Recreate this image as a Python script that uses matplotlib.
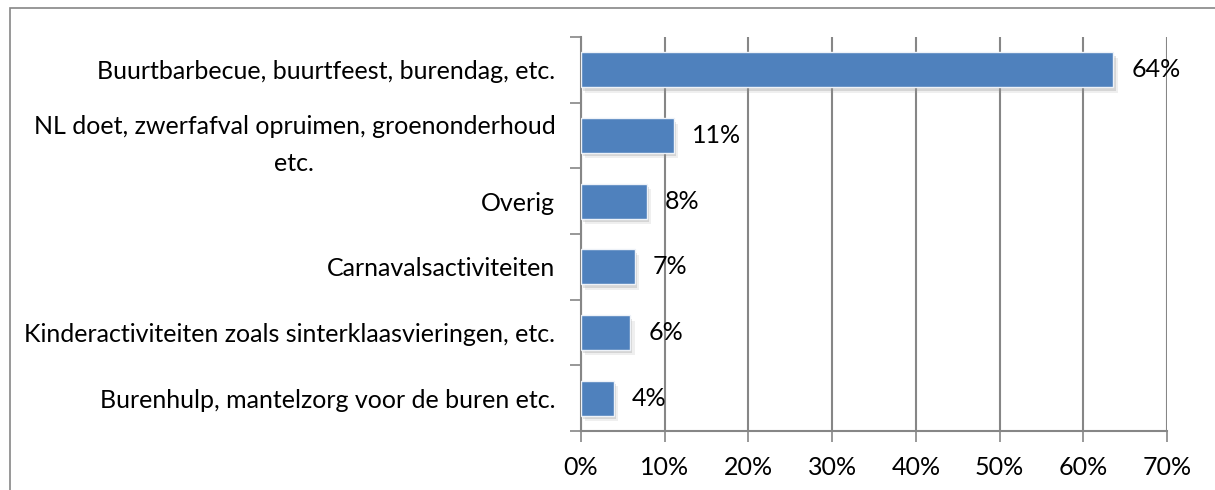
import numpy as np
import matplotlib.pyplot as plt
import matplotlib.patheffects as pe
from matplotlib.patches import Rectangle
from matplotlib.ticker import FixedLocator, PercentFormatter

plt.rcParams['font.family'] = ['Lato', 'DejaVu Sans']

# data
categories = [
    "Buurtbarbecue, buurtfeest, burendag, etc.",
    "NL doet, zwerfafval opruimen, groenonderhoud\netc.",
    "Overig",
    "Carnavalsactiviteiten",
    "Kinderactiviteiten zoals sinterklaasvieringen, etc.",
    "Burenhulp, mantelzorg voor de buren etc.",
]
values = [63.6, 11.1, 7.9, 6.4, 5.9, 3.9]
value_labels = ["64%", "11%", "8%", "7%", "6%", "4%"]
x_ticks = [0, 10, 20, 30, 40, 50, 60, 70]

grey = "#868686"
blue = "#4F81BD"
fs = 18

fig = plt.figure(figsize=(12.15, 4.9), dpi=100)
ax = fig.add_axes([581/1215, 1 - 431/490, (1167 - 581)/1215, (431 - 37)/490])

# outer frame of the chart area (runs off the picture on the right and bottom)
fig.patches.append(Rectangle((10/1215, -0.1), 1.2, 1.1 - 8/490,
                             transform=fig.transFigure, fill=False,
                             edgecolor=grey, linewidth=1.2))

y = np.arange(len(categories))[::-1]
bars = ax.barh(y, values, height=0.53, color=blue, edgecolor="#EEF2F8",
               linewidth=1.0, zorder=3)
for b in bars:
    b.set_path_effects([
        pe.SimplePatchShadow(offset=(3, -4), shadow_rgbFace="#999999", alpha=0.15),
        pe.SimplePatchShadow(offset=(1.5, -2.5), shadow_rgbFace="#888888", alpha=0.25),
        pe.Normal()])

for yi, v, lab in zip(y, values, value_labels):
    ax.annotate(lab, (v, yi), xytext=(18, 0), textcoords="offset pixels",
                va="center", ha="left", fontsize=fs, zorder=4)

ax.set_xlim(0, 70)
ax.set_ylim(-0.5, len(categories) - 0.5)
ax.xaxis.set_major_locator(FixedLocator(x_ticks))
ax.xaxis.set_major_formatter(PercentFormatter(decimals=0))
ax.grid(axis="x", color=grey, linewidth=1.5, zorder=0)

# category boundaries get the ticks, labels sit in between
ax.set_yticks(np.arange(-0.5, len(categories)), minor=False)
ax.set_yticklabels([])
ax.set_yticks(y, minor=True)
ax.set_yticklabels(categories, minor=True, fontsize=fs)
for lab in ax.get_yticklabels(minor=True):
    lab.set_multialignment("center")
    lab.set_linespacing(1.75)
ax.tick_params(axis="y", which="major", length=8, width=1.2, color=grey)
ax.tick_params(axis="y", which="minor", length=0, pad=18.5)
ax.tick_params(axis="x", length=8, width=1.2, color=grey, labelsize=fs, pad=10)

for s in ["top", "right"]:
    ax.spines[s].set_visible(False)
for s in ["left", "bottom"]:
    ax.spines[s].set_color(grey)
    ax.spines[s].set_linewidth(1.5)

fig.savefig("out.png", dpi=100)
